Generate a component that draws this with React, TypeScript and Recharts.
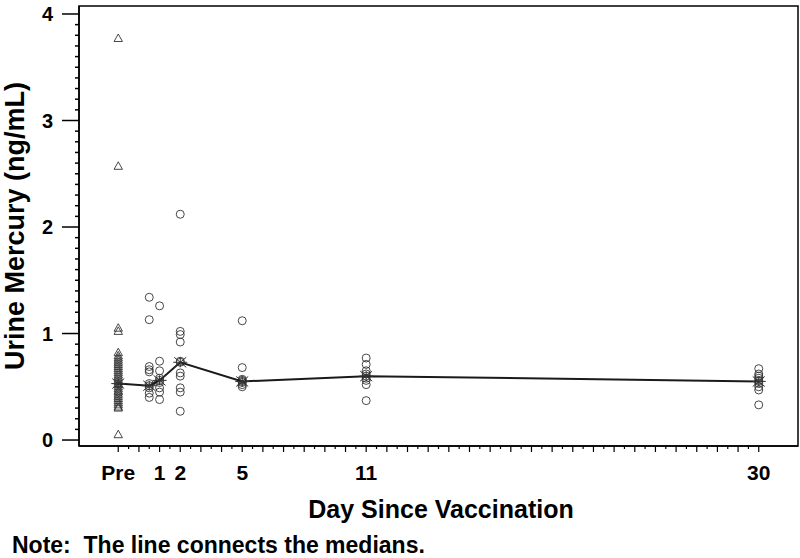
import React from 'react';
import { ScatterChart, Scatter, XAxis, YAxis, ReferenceArea } from 'recharts';

// ---- data ----
const preDay = -1;
const preValues = [3.77, 2.57, 1.05, 1.02, 0.82, 0.79, 0.77, 0.75, 0.73, 0.71, 0.69, 0.67, 0.65, 0.63, 0.61, 0.59, 0.57, 0.55, 0.53, 0.52, 0.5, 0.48, 0.46, 0.45, 0.43, 0.41, 0.39, 0.37, 0.35, 0.33, 0.31, 0.3, 0.05];
const postDays = [0.5, 1, 2, 5, 11, 30];
const postValues = [
  [1.34, 1.13, 0.69, 0.66, 0.64, 0.53, 0.51, 0.49, 0.44, 0.4],
  [1.26, 0.74, 0.65, 0.58, 0.56, 0.54, 0.49, 0.45, 0.38],
  [2.12, 1.02, 0.99, 0.92, 0.74, 0.73, 0.63, 0.6, 0.49, 0.45, 0.27],
  [1.12, 0.68, 0.57, 0.56, 0.55, 0.54, 0.52, 0.5],
  [0.77, 0.71, 0.65, 0.62, 0.6, 0.58, 0.56, 0.52, 0.37],
  [0.67, 0.62, 0.6, 0.58, 0.56, 0.55, 0.53, 0.5, 0.47, 0.33],
];
const medianDays = [-1, 0.5, 1, 2, 5, 11, 30];
const medianValues = [0.53, 0.51, 0.56, 0.73, 0.55, 0.6, 0.55];

const xLabelDays = [-1, 1, 2, 5, 11, 30];
const xLabelText = ['Pre', '1', '2', '5', '11', '30'];

const X_MIN = -2.9;
const X_MAX = 31.9;
const Y_MIN = -0.056;
const Y_MAX = 4.075;

const xTicks: number[] = [];
for (let i = -2; i <= 60; i++) xTicks.push(i / 2);
const yTicks: number[] = [];
for (let i = 0; i <= 40; i++) yTicks.push(i / 10);

const preData = preValues.map((v) => ({ x: preDay, y: v }));
const postData = postDays.flatMap((d, i) => postValues[i].map((v) => ({ x: d, y: v })));
const medianData = medianDays.map((d, i) => ({ x: d, y: medianValues[i] }));

const FONT = '"Liberation Sans", Arial, Helvetica, sans-serif';
const MARK = '#333';

const Triangle = (props: any) => {
  const { cx, cy } = props;
  if (cx == null || cy == null) return null;
  const pts = `${cx},${cy - 4.5} ${cx - 4.2},${cy + 3} ${cx + 4.2},${cy + 3}`;
  return <polygon points={pts} fill="none" stroke={MARK} strokeWidth={0.9} />;
};

const Circle = (props: any) => {
  const { cx, cy } = props;
  if (cx == null || cy == null) return null;
  return <circle cx={cx} cy={cy} r={4} fill="none" stroke={MARK} strokeWidth={0.9} />;
};

const Star = (props: any) => {
  const { cx, cy } = props;
  if (cx == null || cy == null) return null;
  return (
    <g stroke={MARK} strokeWidth={1}>
      <line x1={cx - 7} y1={cy} x2={cx + 7} y2={cy} />
      <line x1={cx} y1={cy - 5} x2={cx} y2={cy + 5} />
      <line x1={cx - 6} y1={cy - 5} x2={cx + 6} y2={cy + 5} />
      <line x1={cx - 6} y1={cy + 5} x2={cx + 6} y2={cy - 5} />
    </g>
  );
};

const YTick = (props: any) => {
  const { x, y, payload } = props;
  const v = payload.value;
  const major = Number.isInteger(v);
  return (
    <g>
      <line x1={x - (major ? 17 : 4)} y1={y} x2={x} y2={y} stroke="#000" strokeWidth={1.5} />
      {major && (
        <text x={x - 26} y={y} dy="0.355em" textAnchor="end" fontFamily={FONT} fontWeight="bold" fontSize={20} fill="#000">
          {v}
        </text>
      )}
    </g>
  );
};

const XTick = (props: any) => {
  const { x, y, payload } = props;
  const v = payload.value;
  const major = Number.isInteger(v);
  const idx = xLabelDays.indexOf(v);
  return (
    <g>
      <line x1={x} y1={y} x2={x} y2={y + (major ? 6 : 3)} stroke="#000" strokeWidth={1.2} />
      {idx >= 0 && (
        <text x={x} y={y + 19} dy="0.71em" textAnchor="middle" fontFamily={FONT} fontWeight="bold" fontSize={21} fill="#000">
          {xLabelText[idx]}
        </text>
      )}
    </g>
  );
};

export default function App() {
  return (
    <div style={{ position: 'absolute', left: 0, top: 0, width: 800, height: 558, background: '#fff' }}>
      <ScatterChart width={800} height={558} margin={{ top: 6, right: 2, left: 0, bottom: 72 }}>
        <XAxis
          dataKey="x"
          type="number"
          domain={[X_MIN, X_MAX]}
          allowDataOverflow
          ticks={xTicks}
          interval={0}
          tick={<XTick />}
          tickLine={false}
          tickSize={0}
          tickMargin={0}
          height={40}
          axisLine={{ stroke: '#000', strokeWidth: 1.5 }}
        />
        <YAxis
          dataKey="y"
          type="number"
          domain={[Y_MIN, Y_MAX]}
          allowDataOverflow
          ticks={yTicks}
          interval={0}
          tick={<YTick />}
          tickLine={false}
          tickSize={0}
          tickMargin={0}
          width={79}
          axisLine={{ stroke: '#000', strokeWidth: 1.5 }}
        />
        <ReferenceArea x1={X_MIN} x2={X_MAX} y1={Y_MIN} y2={Y_MAX} fill="none" stroke="#000" strokeWidth={1.5} ifOverflow="visible" />
        <Scatter data={preData} shape={Triangle} isAnimationActive={false} />
        <Scatter data={postData} shape={Circle} isAnimationActive={false} />
        <Scatter
          data={medianData}
          shape={Star}
          line={{ stroke: '#1a1a1a', strokeWidth: 2 }}
          lineJointType="linear"
          isAnimationActive={false}
        />
      </ScatterChart>
      <svg width={800} height={558} style={{ position: 'absolute', left: 0, top: 0, pointerEvents: 'none' }}>
        <text transform="rotate(-90)" x={-226} y={23.5} textAnchor="middle" fontFamily={FONT} fontWeight="bold" fontSize={27} fill="#000">
          Urine Mercury (ng/mL)
        </text>
        <text x={441} y={518} textAnchor="middle" fontFamily={FONT} fontWeight="bold" fontSize={25} fill="#000">
          Day Since Vaccination
        </text>
        <text x={12} y={553} textAnchor="start" fontFamily={FONT} fontWeight="bold" fontSize={23} fill="#000">
          Note:{'\u00a0\u00a0'}The line connects the medians.
        </text>
      </svg>
    </div>
  );
}
